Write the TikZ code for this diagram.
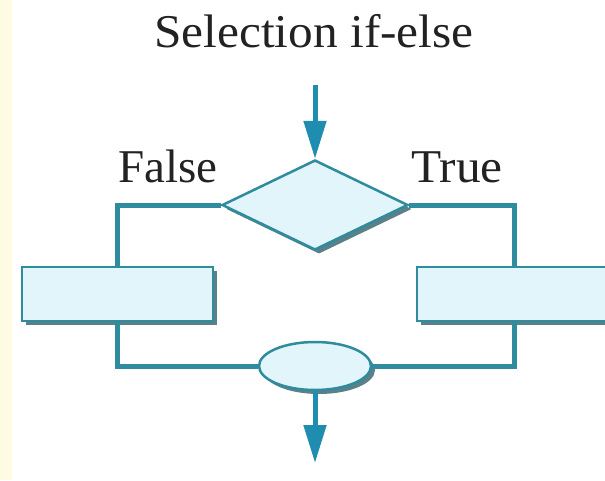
\documentclass[tikz,border=0pt]{standalone}
\usepackage{fontspec}
\setmainfont{Liberation Serif}
\usetikzlibrary{shapes.geometric,arrows.meta,shadows}
\definecolor{linecol}{HTML}{2F8C9E}
\definecolor{arrowcol}{HTML}{1E8DB0}
\definecolor{fillcol}{HTML}{E2F5FB}
\definecolor{shadowcol}{HTML}{5C8088}
\definecolor{creamcol}{HTML}{FFFBE3}
\definecolor{textcol}{HTML}{222222}
\tikzset{
  shp/.style={draw=linecol, line width=2.5pt, fill=fillcol,
    drop shadow={shadow xshift=4pt, shadow yshift=-4pt, fill=shadowcol, opacity=1}},
  conn/.style={draw=linecol, line width=5pt},
  flow/.style={draw=arrowcol, line width=5pt, -{Triangle[length=38pt,width=22pt]}},
  lbl/.style={font=\fontsize{47}{50}\selectfont, text=textcol, anchor=base, inner sep=0pt}
}
\begin{document}
\begin{tikzpicture}[x=1pt,y=-1pt]
\useasboundingbox (0,0) rectangle (605,480);
\fill[white] (0,0) rectangle (605,480);
\fill[creamcol] (0,0) rectangle (12,480);
\clip (0,0) rectangle (605,480);
\node[lbl, xscale=1.05] (title) at (314,47) {Selection if-else};
\node[lbl] (false) at (168,182) {False};
\node[lbl, xscale=1.05] (true) at (457,182) {True};
\node[shp, diamond, minimum width=186pt, minimum height=90pt, inner sep=0pt, aspect=2.07] (d) at (315,205) {};
\node[shp, rectangle, minimum width=191pt, minimum height=54pt, inner sep=0pt] (lb) at (117.5,294) {};
\node[shp, rectangle, minimum width=194pt, minimum height=54pt, inner sep=0pt] (rb) at (514,294) {};
\node[shp, ellipse, minimum width=112pt, minimum height=48pt, inner sep=0pt] (e) at (315,366) {};
\coordinate (top) at (315,85);
\coordinate (bot) at (315,463);
\draw[conn] (d.west) -| (lb.north);
\draw[conn] (d.east) -| (rb.north);
\draw[conn] (lb.south) |- (e.west);
\draw[conn] (rb.south) |- (e.east);
\draw[flow] (top) -- (d.north);
\draw[flow] (e.south) -- (bot);
\end{tikzpicture}
\end{document}
